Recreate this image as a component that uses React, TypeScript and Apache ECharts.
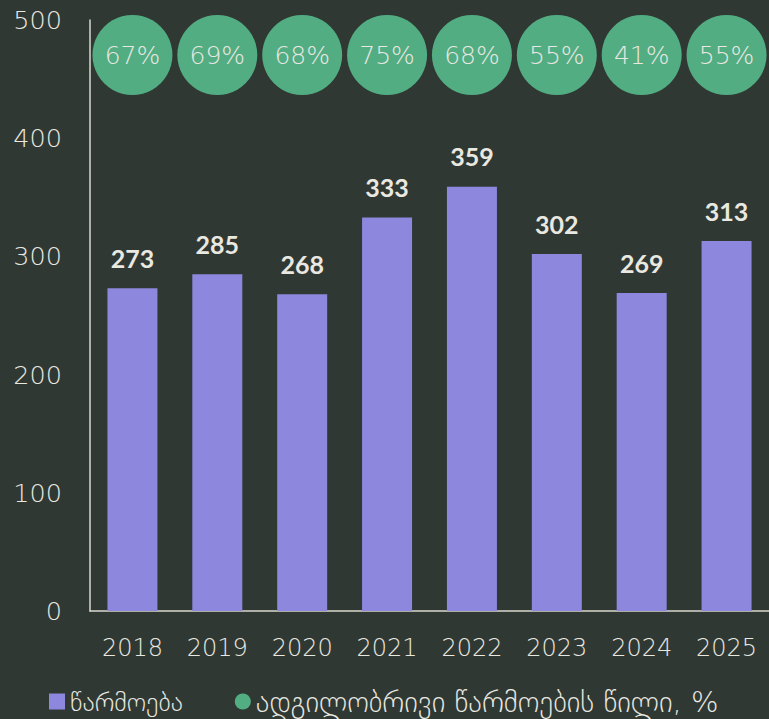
import React, { useEffect, useRef } from "react";
import * as echarts from "echarts";

const years = ["2018", "2019", "2020", "2021", "2022", "2023", "2024", "2025"];
const production = [273, 285, 268, 333, 359, 302, 269, 313];
const localShare = [67, 69, 68, 75, 68, 55, 41, 55];
const seriesNames = ["წარმოება", "ადგილობრივი წარმოების წილი, %"];

const LIGHT = "'DejaVu Sans', sans-serif";
const FONT = "Lato, 'DejaVu Sans', sans-serif";
const TEXT = "#e9e8e1";

export default function App() {
  const ref = useRef<HTMLDivElement>(null);
  useEffect(() => {
    document.body.style.margin = "0";
    const chart = echarts.init(ref.current!, null, { renderer: "svg" });
    chart.setOption({
      animation: false,
      backgroundColor: "#303833",
      textStyle: { fontFamily: FONT },
      legend: {
        left: 44,
        top: 682,
        itemWidth: 16,
        itemHeight: 16,
        itemGap: 52,
        textStyle: { color: TEXT, fontSize: 26, fontFamily: LIGHT, fontWeight: 200 },
        data: [
          { name: seriesNames[0], icon: "rect" },
          { name: seriesNames[1], icon: "circle", textStyle: { fontSize: 29 } },
        ],
      },
      grid: [
        { left: 90, right: -5, top: 20, height: 591 },
        { left: 90, right: -5, top: 15, height: 80 },
      ],
      xAxis: [
        {
          type: "category",
          data: years,
          gridIndex: 0,
          axisLine: { show: true, lineStyle: { color: "#d8d8d0", width: 1.5 } },
          axisTick: { show: false },
          axisLabel: { color: TEXT, fontSize: 24, margin: 25, fontFamily: LIGHT, fontWeight: 200 },
        },
        {
          type: "category",
          data: years,
          gridIndex: 1,
          show: false,
        },
      ],
      yAxis: [
        {
          type: "value",
          gridIndex: 0,
          min: 0,
          max: 500,
          interval: 100,
          splitLine: { show: false },
          axisLine: { show: true, lineStyle: { color: "#d8d8d0", width: 1.5 } },
          axisTick: { show: false },
          axisLabel: { color: TEXT, fontSize: 25.5, margin: 28, fontFamily: LIGHT, fontWeight: 200 },
        },
        {
          type: "category",
          gridIndex: 1,
          data: ["share"],
          show: false,
        },
      ],
      series: [
        {
          name: seriesNames[0],
          type: "bar",
          xAxisIndex: 0,
          yAxisIndex: 0,
          data: production,
          barWidth: 50,
          itemStyle: { color: "#8e87de" },
          label: {
            show: true,
            position: "top",
            distance: 18,
            color: TEXT,
            fontSize: 25,
            fontWeight: "bold",
            fontFamily: FONT,
          },
        },
        {
          name: seriesNames[1],
          type: "scatter",
          xAxisIndex: 1,
          yAxisIndex: 1,
          symbol: "circle",
          symbolSize: 80,
          data: localShare.map((p, i) => [years[i], "share", p]),
          itemStyle: { color: "#52ad83", opacity: 1 },
          label: {
            show: true,
            position: "inside",
            color: TEXT,
            fontSize: 25,
            fontWeight: 200,
            fontFamily: LIGHT,
            formatter: (p: any) => p.value[2] + "%",
          },
        },
      ],
    });
    return () => chart.dispose();
  }, []);
  return <div ref={ref} style={{ width: 769, height: 719 }} />;
}
